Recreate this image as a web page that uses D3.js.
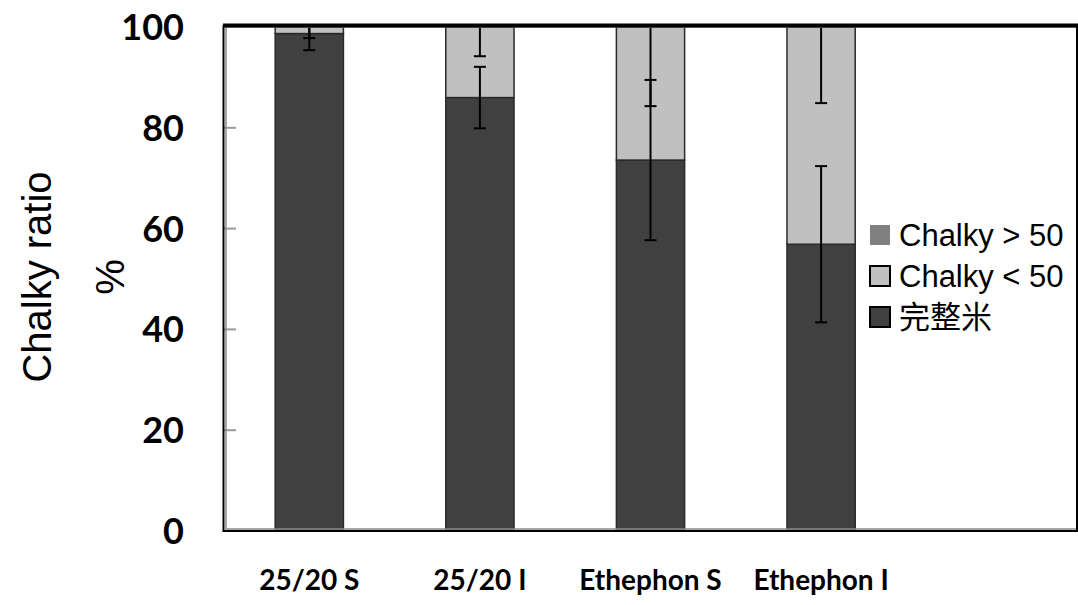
<!DOCTYPE html>
<html>
<head>
<meta charset="utf-8">
<script src="https://cdn.jsdelivr.net/npm/d3@7"></script>
<style>
  body { margin: 0; background: #fff; }
</style>
</head>
<body>
<div id="canvas"></div>
<script>
"use strict"

/* Data */
let categories = ["25/20 S", "25/20 I", "Ethephon S", "Ethephon I"];
let seriesNames = ["完整米", "Chalky < 50", "Chalky > 50"];
let intact = [98.7, 86.0, 73.6, 56.9];        // 完整米
let chalkyLow = [1.3, 14.0, 26.4, 43.1];      // Chalky < 50
let chalkyHigh = [0, 0, 0, 0];                // Chalky > 50
let intactErr = [3.3, 6.1, 15.9, 15.5];
let chalkyLowErr = [2.2, 5.8, 15.7, 15.1];
let yTicks = [0, 20, 40, 60, 80, 100];

/* Drawing config */
let svgWidth = 1078;
let svgHeight = 605;
let plotLeft = 224, plotRight = 1077, plotTop = 27, plotBottom = 531;
let colors = { "完整米": "#404040", "Chalky < 50": "#c0c0c0", "Chalky > 50": "#808080" };

let svg = d3.select("#canvas")
    .append("svg")
    .attr("width", svgWidth)
    .attr("height", svgHeight);

let table = categories.map(function(c, i) {
    return { cat: c, "完整米": intact[i], "Chalky < 50": chalkyLow[i], "Chalky > 50": chalkyHigh[i] };
});

// last empty slot is where the legend sits
let xScale = d3.scaleBand()
    .domain(categories.concat([""]))
    .range([plotLeft, plotRight])
    .paddingInner(0.6)
    .paddingOuter(0.3);

let yScale = d3.scaleLinear()
    .domain([0, 100])
    .range([plotBottom, plotTop]);

svg.append("clipPath")
    .attr("id", "plotClip")
    .append("rect")
    .attr("x", plotLeft)
    .attr("y", plotTop)
    .attr("width", plotRight - plotLeft)
    .attr("height", plotBottom - plotTop);

/* y ticks inside the frame */
svg.selectAll(".yTickMark")
    .data(yTicks.slice(1, 5))
    .join("line")
    .attr("x1", plotLeft)
    .attr("x2", plotLeft + 12)
    .attr("y1", d => yScale(d))
    .attr("y2", d => yScale(d))
    .attr("stroke", "#9a9a9a")
    .attr("stroke-width", 2);

/* stacked bars */
let stacked = d3.stack().keys(seriesNames)(table);

let layers = svg.append("g")
    .selectAll("g")
    .data(stacked)
    .join("g")
    .attr("fill", d => colors[d.key]);

layers.selectAll("rect")
    .data(d => d.filter(p => p[1] - p[0] > 0))
    .join("rect")
    .attr("x", d => xScale(d.data.cat))
    .attr("y", d => yScale(d[1]))
    .attr("width", xScale.bandwidth())
    .attr("height", d => yScale(d[0]) - yScale(d[1]))
    .attr("stroke", "#2a2a2a")
    .attr("stroke-width", 1.5);

/* error bars: one for each stack level */
let errData = [];
categories.forEach(function(c, i) {
    errData.push({ cat: c, v: intact[i], e: intactErr[i] });
    errData.push({ cat: c, v: intact[i] + chalkyLow[i], e: chalkyLowErr[i] });
});

let errG = svg.append("g").attr("clip-path", "url(#plotClip)");
let capW = 6;

errG.selectAll(".errLine")
    .data(errData)
    .join("line")
    .attr("x1", d => xScale(d.cat) + xScale.bandwidth() / 2)
    .attr("x2", d => xScale(d.cat) + xScale.bandwidth() / 2)
    .attr("y1", d => yScale(d.v - d.e))
    .attr("y2", d => yScale(d.v + d.e))
    .attr("stroke", "black")
    .attr("stroke-width", 2);

errG.selectAll(".capLow")
    .data(errData)
    .join("line")
    .attr("x1", d => xScale(d.cat) + xScale.bandwidth() / 2 - capW)
    .attr("x2", d => xScale(d.cat) + xScale.bandwidth() / 2 + capW)
    .attr("y1", d => yScale(d.v - d.e))
    .attr("y2", d => yScale(d.v - d.e))
    .attr("stroke", "black")
    .attr("stroke-width", 2);

errG.selectAll(".capHigh")
    .data(errData)
    .join("line")
    .attr("x1", d => xScale(d.cat) + xScale.bandwidth() / 2 - capW)
    .attr("x2", d => xScale(d.cat) + xScale.bandwidth() / 2 + capW)
    .attr("y1", d => yScale(d.v + d.e))
    .attr("y2", d => yScale(d.v + d.e))
    .attr("stroke", "black")
    .attr("stroke-width", 2);

/* frame */
svg.append("rect")
    .attr("x", plotLeft + 2)
    .attr("y", plotTop)
    .attr("width", plotRight - plotLeft - 2)
    .attr("height", plotBottom - plotTop - 2)
    .attr("fill", "none")
    .attr("stroke", "#8a8a8a")
    .attr("stroke-width", 1.5);

svg.append("rect")
    .attr("x", plotLeft - 0.5)
    .attr("y", plotTop - 1)
    .attr("width", plotRight - plotLeft + 0.5)
    .attr("height", plotBottom - plotTop + 1)
    .attr("fill", "none")
    .attr("stroke", "black")
    .attr("stroke-width", 2);

svg.append("line")
    .attr("x1", plotLeft - 1)
    .attr("x2", svgWidth)
    .attr("y1", plotTop - 1.5)
    .attr("y2", plotTop - 1.5)
    .attr("stroke", "black")
    .attr("stroke-width", 4);

/* y tick labels */
svg.selectAll(".yTickLabel")
    .data(yTicks)
    .join("text")
    .attr("x", 184)
    .attr("y", d => yScale(d))
    .attr("dy", "0.36em")
    .attr("text-anchor", "end")
    .style("font-family", "Lato, 'Open Sans', sans-serif")
    .style("font-weight", "700")
    .style("font-size", "36px")
    .text(d => d);

/* y title, two lines */
svg.append("text")
    .attr("transform", "translate(51, 277) rotate(-90)")
    .attr("text-anchor", "middle")
    .style("font-family", "'Liberation Sans', Arial, sans-serif")
    .style("font-size", "40px")
    .text("Chalky ratio");

svg.append("text")
    .attr("transform", "translate(124, 277) rotate(-90)")
    .attr("text-anchor", "middle")
    .style("font-family", "'Liberation Sans', Arial, sans-serif")
    .style("font-size", "40px")
    .text("%");

/* x labels, centred under the bars */
svg.selectAll(".xLabel")
    .data(categories)
    .join("text")
    .attr("x", d => xScale(d) + xScale.bandwidth() / 2)
    .attr("y", 590)
    .attr("text-anchor", "middle")
    .style("font-family", "Lato, 'Open Sans', sans-serif")
    .style("font-weight", "700")
    .style("font-size", "28px")
    .text(d => d);

/* legend */
let legendX = 870, legendY = 225;
let legendItems = seriesNames.slice().reverse();

svg.selectAll(".legendBox")
    .data(legendItems)
    .join("rect")
    .attr("x", legendX)
    .attr("y", (d, i) => legendY + i * 41)
    .attr("width", 20)
    .attr("height", 20)
    .attr("fill", d => colors[d])
    .attr("stroke", d => d == "Chalky > 50" ? "none" : "black")
    .attr("stroke-width", 2);

svg.selectAll(".legendText")
    .data(legendItems)
    .join("text")
    .attr("x", legendX + 29)
    .attr("y", (d, i) => legendY + i * 41 + 10)
    .attr("dy", "0.36em")
    .style("font-family", "'Liberation Sans', Arial, 'Noto Sans CJK TC', sans-serif")
    .style("font-size", "31px")
    .text(d => d);
</script>
</body>
</html>
